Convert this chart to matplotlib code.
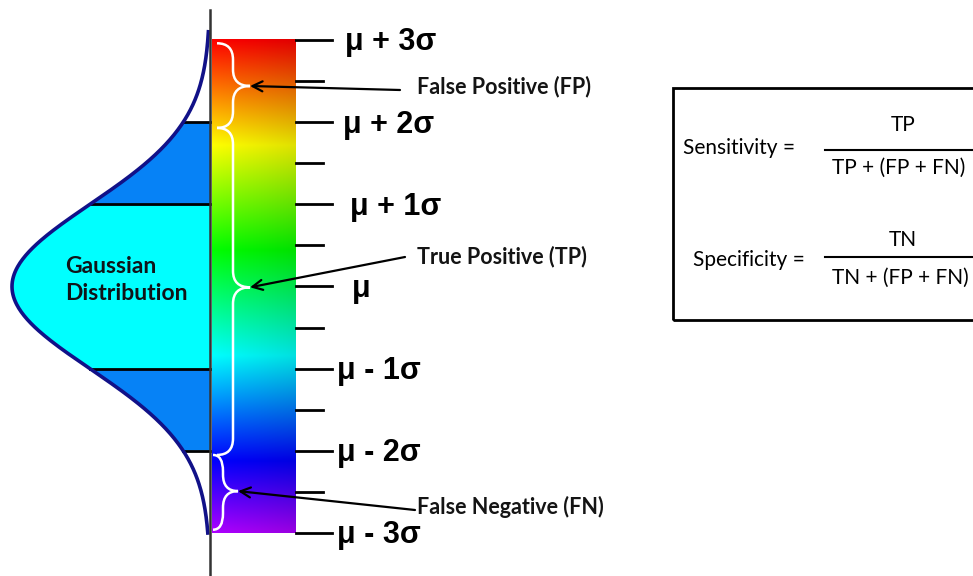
import numpy as np
import matplotlib.pyplot as plt
from matplotlib.path import Path
from matplotlib.patches import PathPatch, Rectangle
from matplotlib.colors import hsv_to_rgb

# values, in units of sigma around the mean
sigma_ticks = [3, 2, 1, 0, -1, -2, -3]
sigma_labels = ["μ + 3σ", "μ + 2σ", "μ + 1σ", "μ", "μ - 1σ", "μ - 2σ", "μ - 3σ"]
minor_ticks = [2.5, 1.5, 0.5, -0.5, -1.5, -2.5]
inner_band = 1
outer_band = 2

regions = ["False Positive (FP)", "True Positive (TP)", "False Negative (FN)"]
region_top = [2.96, 1.93, -2.05]
region_bottom = [1.93, -2.05, -2.96]
region_tip = [2.44, -0.01, -2.49]

# layout (pixels across, sigma up)
MU_PX, SIG_PX = 286.5, 82.17


def pz(py):
    return (MU_PX - py) / SIG_PX


label_x = [345, 343, 350, 352, 337, 337, 337]
region_text_y = [pz(87), pz(257), pz(507)]
region_arrow_start = [(400, pz(90)), (405, pz(257)), (415, pz(510))]
brace_x = [(217, 233, 250), (217, 233, 250), (213, 223, 238)]

BASE_X, PEAK_W = 210, 198
BAR_L, BAR_R = 212, 296

fig = plt.figure(figsize=(9.73, 5.76), dpi=100)
ax = fig.add_axes([0, 0, 1, 1])
ax.set_xlim(0, 973)
ax.set_ylim(pz(576), pz(0))
ax.axis("off")

# gaussian curve on its side
z = np.linspace(-3.0, 3.1, 400)
cx = BASE_X - PEAK_W * np.exp(-z ** 2 / 2)
m1 = np.abs(z) <= inner_band
m2 = np.abs(z) <= outer_band
ax.fill_betweenx(z, cx, BASE_X, where=m2, color="#0682f6", lw=0)
ax.fill_betweenx(z, cx, BASE_X, where=m1, color="#00ffff", lw=0)
for lv in [inner_band, outer_band, -inner_band, -outer_band]:
    x0 = BASE_X - PEAK_W * np.exp(-lv ** 2 / 2)
    ax.plot([x0, BASE_X], [lv, lv], color="black", lw=2)
ax.plot(cx, z, color="#111188", lw=2.6)
ax.plot([BASE_X, BASE_X], [pz(10), pz(576)], color="#333333", lw=1.8)

ax.text(65, pz(267), "Gaussian", fontsize=16.5, fontweight="bold",
        family="Lato", va="center", ha="left", color="#101418")
ax.text(65, pz(294), "Distribution", fontsize=16.5, fontweight="bold",
        family="Lato", va="center", ha="left", color="#101418")

# rainbow bar
gz = np.linspace(3, -3, 300)
gx = np.linspace(0, 1, 60)
H = np.repeat(((3 - gz) / 6 * 0.78)[:, None], len(gx), axis=1)
S = np.ones_like(H)
V = 1 - 0.12 * gx[None, :] * np.ones_like(H)
rgb = hsv_to_rgb(np.dstack([H, S, V]))
ax.imshow(rgb, extent=[BAR_L, BAR_R, -3, 3], aspect="auto", zorder=2,
          interpolation="bilinear")

# ticks and labels
for t, lab, lx in zip(sigma_ticks, sigma_labels, label_x):
    ax.plot([BAR_R, 332], [t, t], color="black", lw=2)
    ax.text(lx, t - 0.03, lab, fontsize=22, fontweight="bold",
            family="Liberation Sans", va="center", ha="left")
for t in minor_ticks:
    ax.plot([BAR_R, 323], [t, t], color="black", lw=2)


# white braces
def brace(top, bot, tip, xe, xs, xt, r=0.2):
    verts = [(xe, top), (xs, top), (xs, top - r),
             (xs, tip + r),
             (xs, tip), (xt, tip),
             (xs, tip), (xs, tip - r),
             (xs, bot + r),
             (xs, bot), (xe, bot)]
    codes = [Path.MOVETO, Path.CURVE3, Path.CURVE3,
             Path.LINETO,
             Path.CURVE3, Path.CURVE3,
             Path.CURVE3, Path.CURVE3,
             Path.LINETO,
             Path.CURVE3, Path.CURVE3]
    ax.add_patch(PathPatch(Path(verts, codes), fill=False, ec="white",
                           lw=1.8, zorder=3))


for i, name in enumerate(regions):
    xe, xs, xt = brace_x[i]
    brace(region_top[i], region_bottom[i], region_tip[i], xe, xs, xt)
    ax.annotate("", xy=(xt, region_tip[i]), xytext=region_arrow_start[i],
                arrowprops=dict(arrowstyle="->", color="black", lw=1.6,
                                mutation_scale=18, shrinkA=0, shrinkB=0),
                zorder=4)
    ax.text(417, region_text_y[i], name, fontsize=15.5, fontweight="bold",
            family="Lato", va="center", ha="left", color="#141414")

# formula box
ax.add_patch(Rectangle((673, pz(320)), 400, pz(88) - pz(320), fill=False,
                       ec="black", lw=2, clip_on=True))
ax.text(683, pz(148), "Sensitivity =", fontsize=15, family="Lato",
        va="center", ha="left")
ax.text(903, pz(125), "TP", fontsize=15, family="Lato", va="center", ha="center")
ax.plot([825, 973], [pz(150), pz(150)], color="black", lw=1.5)
ax.text(832, pz(168), "TP + (FP + FN)", fontsize=15, family="Lato",
        va="center", ha="left")

ax.text(693, pz(260), "Specificity =", fontsize=15, family="Lato",
        va="center", ha="left")
ax.text(903, pz(240), "TN", fontsize=15, family="Lato", va="center", ha="center")
ax.plot([825, 973], [pz(257), pz(257)], color="black", lw=1.5)
ax.text(832, pz(278), "TN + (FP + FN)", fontsize=15, family="Lato",
        va="center", ha="left")

fig.savefig("out.png", dpi=100)
